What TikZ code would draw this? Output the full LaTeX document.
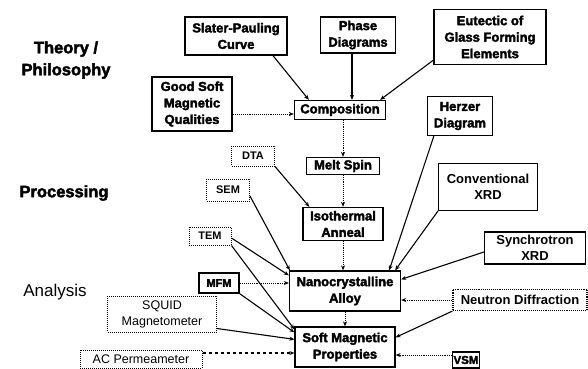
\documentclass[tikz,border=0pt]{standalone}
\usepackage{fontspec}
\setmainfont{Liberation Sans}
\newfontfamily\heavy[FakeBold=2.5]{Liberation Sans Bold}
\usetikzlibrary{arrows.meta}
\begin{document}
\begin{tikzpicture}[x=1pt,y=-1pt,
  wh/.style 2 args={minimum width=#1, minimum height=#2},
  hb/.style={draw, line width=1.3pt, inner sep=0pt, align=center, font=\heavy\fontsize{13}{16.5}\selectfont},
  mb/.style={draw, line width=1.1pt, inner sep=0pt, align=center, font=\bfseries\fontsize{13}{16.5}\selectfont},
  mbd/.style={mb, densely dotted},
  lb/.style={draw, densely dotted, line width=1pt, inner sep=0pt, align=center, font=\bfseries\fontsize{11}{13}\selectfont},
  rb/.style={draw, densely dotted, line width=1pt, inner sep=0pt, align=center, font=\fontsize{12.5}{16}\selectfont},
  arr/.style={-{Stealth[length=5pt,width=4pt]}, line width=1.1pt},
  dotarr/.style={arr, densely dotted, line width=0.8pt},
  dasharr/.style={arr, dashed, line width=1.2pt},
  lab/.style={align=center, inner sep=0pt}]
\useasboundingbox[fill=white] (0,0) rectangle (588,368);

% row labels
\node[lab, font=\heavy\fontsize{16.5}{22}\selectfont] (theory) at (66,60) {Theory /\\Philosophy};
\node[lab, font=\heavy\fontsize{16.5}{20}\selectfont] (proc) at (64,193) {Processing};
\node[lab, font=\fontsize{17}{20}\selectfont] (anal) at (55,292) {Analysis};

% boxes
\node[hb, wh={102pt}{38pt}] (slater) at (236,36) {Slater-Pauling\\Curve};
\node[hb, wh={75pt}{36pt}] (phase) at (358,35) {Phase\\Diagrams};
\node[hb, wh={112pt}{55pt}] (eut) at (490,37) {Eutectic of\\Glass Forming\\Elements};
\node[hb, wh={80pt}{54pt}] (good) at (192,104) {Good Soft\\Magnetic\\Qualities};
\node[hb, wh={91pt}{19pt}] (comp) at (340,110) {Composition};
\node[hb, wh={65pt}{39pt}] (herzer) at (460,116) {Herzer\\Diagram};
\node[lb, wh={43pt}{20pt}] (dta) at (253,156) {DTA};
\node[lb, wh={43pt}{22pt}] (sem) at (228,190) {SEM};
\node[lb, wh={42pt}{18pt}] (tem) at (210,236) {TEM};
\node[hb, wh={73pt}{17pt}] (melt) at (343,166) {Melt Spin};
\node[hb, wh={80pt}{33pt}] (iso) at (343,224) {Isothermal\\Anneal};
\node[mb, wh={99pt}{47pt}] (conv) at (488,187) {Conventional\\XRD};
\node[mb, wh={101pt}{32pt}] (sync) at (535,248) {Synchrotron\\XRD};
\node[hb, wh={111pt}{40pt}] (nano) at (345,291) {Nanocrystalline\\Alloy};
\node[mbd, wh={134pt}{21pt}] (neut) at (520,300) {Neutron Diffraction};
\node[hb, wh={100pt}{40pt}] (soft) at (345,347) {Soft Magnetic\\Properties};
\node[hb, wh={27pt}{16pt}, font=\heavy\fontsize{11.5}{13}\selectfont] (vsm) at (466,360) {VSM};
\node[hb, wh={40pt}{20pt}, font=\heavy\fontsize{11}{13}\selectfont] (mfm) at (219,283) {MFM};
\node[rb, wh={109pt}{36pt}] (squid) at (162,314) {SQUID\\Magnetometer};
\node[rb, wh={122pt}{18pt}] (ac) at (141,359) {AC Permeameter};

% connectors: theory
\draw[arr] ([xshift=37pt]slater.south) -- ([xshift=15pt]comp.north west);
\draw[arr] ([xshift=-6pt]phase.south) -- ([xshift=12pt]comp.north);
\draw[arr] ([yshift=5pt]eut.south west) -- ([xshift=-6pt]comp.north east);
\coordinate (c1) at ([yshift=-4pt]comp.west);
\draw[dotarr] (c1 -| good.east) -- (c1);

% processing chain
\draw[dotarr] (comp.south -| melt.north) -- (melt.north);
\draw[dotarr] (melt.south) -- (iso.north);
\draw[dotarr] (iso.south) -- (iso.south |- nano.north);
\draw[dotarr] (nano.south) -- (nano.south |- soft.north);
\draw[arr] (dta.south east) -- ([xshift=7pt]iso.north west);

% analysis to nanocrystalline alloy
\draw[arr] ([yshift=-6pt]sem.east) -- ([xshift=1pt]nano.north west);
\draw[arr] ([yshift=-2pt]tem.east) -- ([yshift=-5pt]nano.north west);
\draw[dotarr] (mfm.east) -- (mfm.east -| nano.west);
\draw[arr] ([xshift=7pt]herzer.south west) -- ([xshift=-12pt]nano.north east);
\draw[arr] (conv.south west) -- ([xshift=-6pt]nano.north east);
\draw[arr] ([yshift=-4pt]sync.west) -- ([yshift=-9pt]nano.north east);
\draw[dotarr] (neut.west) -- (neut.west -| nano.east);

% analysis to soft magnetic properties
\draw[arr] (tem.south east) -- ([yshift=-3pt]soft.north west);
\draw[arr] (mfm.south east) -- ([yshift=-6pt]soft.north west);
\draw[arr] ([yshift=4pt]squid.south east) -- ([yshift=-13pt]soft.north west);
\coordinate (c2) at ([yshift=-6pt]soft.west);
\draw[dasharr] (c2 -| ac.east) -- (c2);
\draw[arr] (neut.south west) -- ([yshift=-11pt]soft.north east);
\coordinate (c3) at ([yshift=-8pt]soft.east);
\draw[dotarr] (c3 -| vsm.west) -- (c3);
\end{tikzpicture}
\end{document}
